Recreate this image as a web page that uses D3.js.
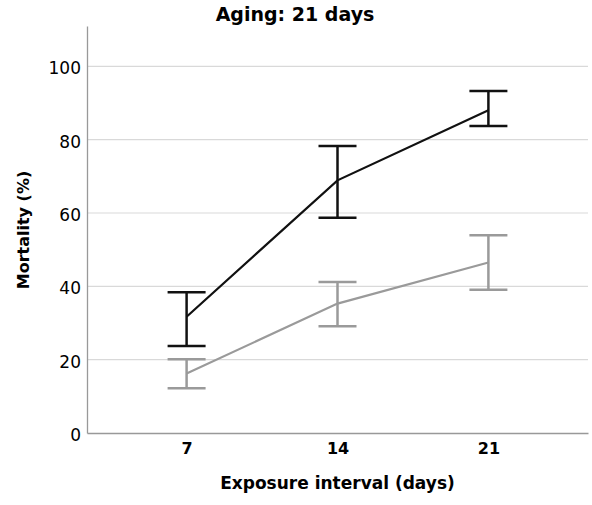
<!DOCTYPE html>
<html>
<head>
<meta charset="utf-8">
<script src="https://cdn.jsdelivr.net/npm/d3@7"></script>
<style>
  body { margin: 0; background: #fff; }
  text { font-family: "DejaVu Sans", sans-serif; fill: #000; }
</style>
</head>
<body>
<svg id="chart" width="592" height="505"></svg>
<script>
var intervals = ["7", "14", "21"];
var yTicks = [0, 20, 40, 60, 80, 100];

// black series
var darkMean = [31.7, 68.9, 88.0];
var darkLow = [23.7, 58.7, 83.7];
var darkHigh = [38.4, 78.3, 93.3];

// gray series
var lightMean = [16.2, 35.3, 46.5];
var lightLow = [12.2, 29.1, 39.1];
var lightHigh = [20.1, 41.2, 53.9];

var svg = d3.select("#chart"),
  margin = {top: 26, right: 4, bottom: 72, left: 87},
  width = +svg.attr("width") - margin.left - margin.right,
  height = +svg.attr("height") - margin.top - margin.bottom;

var x = d3.scalePoint().domain(intervals).range([0, width]).padding(0.66),
  y = d3.scaleLinear().domain([0, 111]).range([height, 0]);

var g = svg.append("g")
  .attr("transform", "translate(" + margin.left + "," + margin.top + ")");

// gridlines
g.selectAll(".grid").data(yTicks.slice(1)).enter()
  .append("line")
  .attr("x1", 0).attr("x2", width)
  .attr("y1", function(d) { return y(d); })
  .attr("y2", function(d) { return y(d); })
  .attr("stroke", "#d9d9d9")
  .attr("stroke-width", 1.2);

// axes
var yAxis = d3.axisLeft(y).tickValues(yTicks).tickSize(0).tickPadding(6);
var gy = g.append("g").call(yAxis);
gy.select(".domain").attr("stroke", "#999").attr("stroke-width", 1.3);
gy.selectAll(".tick text")
  .style("font-size", "17px")
  .style("font-family", "'DejaVu Sans', sans-serif")
  .attr("dy", "0.45em");

var xAxis = d3.axisBottom(x).tickSize(0).tickPadding(10);
var gx = g.append("g").attr("transform", "translate(0," + height + ")").call(xAxis);
gx.select(".domain").attr("stroke", "#999").attr("stroke-width", 1.3);
gx.selectAll(".tick text")
  .style("font-size", "16px")
  .style("font-weight", "bold")
  .style("font-family", "'DejaVu Sans', sans-serif");

function series(mean, low, high, color) {
  var rows = intervals.map(function(k, i) {
    return {k: k, m: mean[i], lo: low[i], hi: high[i]};
  });
  var line = d3.line()
    .x(function(d) { return x(d.k); })
    .y(function(d) { return y(d.m); });

  g.append("path")
    .datum(rows)
    .attr("fill", "none")
    .attr("stroke", color)
    .attr("stroke-width", 2.2)
    .attr("d", line);

  var cap = 19;
  var bars = g.append("g").selectAll("g").data(rows).enter().append("g")
    .attr("stroke", color)
    .attr("stroke-width", 2.5);
  bars.append("line")
    .attr("x1", function(d) { return x(d.k); })
    .attr("x2", function(d) { return x(d.k); })
    .attr("y1", function(d) { return y(d.lo); })
    .attr("y2", function(d) { return y(d.hi); });
  bars.append("line")
    .attr("x1", function(d) { return x(d.k) - cap; })
    .attr("x2", function(d) { return x(d.k) + cap; })
    .attr("y1", function(d) { return y(d.hi); })
    .attr("y2", function(d) { return y(d.hi); });
  bars.append("line")
    .attr("x1", function(d) { return x(d.k) - cap; })
    .attr("x2", function(d) { return x(d.k) + cap; })
    .attr("y1", function(d) { return y(d.lo); })
    .attr("y2", function(d) { return y(d.lo); });
}

series(lightMean, lightLow, lightHigh, "#9a9a9a");
series(darkMean, darkLow, darkHigh, "#111");

// title and axis labels
svg.append("text")
  .attr("x", 295).attr("y", 21)
  .attr("text-anchor", "middle")
  .style("font-size", "19px")
  .style("font-weight", "bold")
  .text("Aging: 21 days");

svg.append("text")
  .attr("x", margin.left + width / 2).attr("y", 489)
  .attr("text-anchor", "middle")
  .style("font-size", "17px")
  .style("font-weight", "bold")
  .text("Exposure interval (days)");

svg.append("text")
  .attr("transform", "translate(29," + 230 + ") rotate(-90)")
  .attr("text-anchor", "middle")
  .style("font-size", "16px")
  .style("font-weight", "bold")
  .text("Mortality (%)");
</script>
</body>
</html>
